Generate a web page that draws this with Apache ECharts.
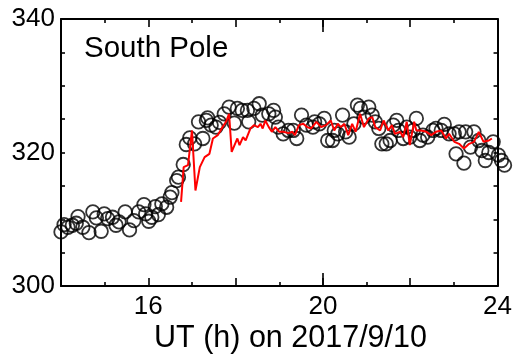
<!DOCTYPE html>
<html>
<head>
<meta charset="utf-8">
<style>
  html, body { margin: 0; padding: 0; background: #fff; }
  #chart { width: 515px; height: 356px; }
</style>
<script src="https://cdn.jsdelivr.net/npm/echarts@6/dist/echarts.min.js"></script>
</head>
<body>
<div id="chart"></div>
<script>
// Observed values (open circles): UT hour and value
const obsHours = [
  14.00, 14.07, 14.16, 14.26, 14.35, 14.39, 14.50, 14.64, 14.73, 14.81,
  14.92, 14.99, 15.07, 15.18, 15.26, 15.33, 15.47, 15.57, 15.67, 15.78,
  15.90, 15.94, 16.01, 16.08, 16.16, 16.23, 16.31, 16.42, 16.50, 16.54,
  16.65, 16.69, 16.80, 16.87, 16.95, 17.06, 17.15, 17.25, 17.33, 17.36,
  17.44, 17.55, 17.63, 17.74, 17.85, 17.97, 18.04, 18.15, 18.27, 18.30,
  18.42, 18.54, 18.61, 18.76, 18.87, 18.91, 18.98, 19.09, 19.21, 19.32,
  19.40, 19.51, 19.62, 19.77, 19.81, 19.92, 20.03, 20.11, 20.22, 20.26,
  20.34, 20.45, 20.52, 20.60, 20.71, 20.79, 20.86, 20.94, 21.05, 21.13,
  21.20, 21.28, 21.35, 21.45, 21.54, 21.61, 21.69, 21.73, 21.84, 21.92,
  21.99, 22.07, 22.14, 22.22, 22.29, 22.40, 22.52, 22.59, 22.71, 22.78,
  22.89, 23.01, 23.05, 23.12, 23.23, 23.27, 23.38, 23.46, 23.57, 23.64,
  23.72, 23.80, 23.90, 24.02, 24.09, 24.16
];
const obsValues = [
  308.1, 309.2, 308.8, 309.1, 309.4, 310.4, 308.8, 308.0, 311.1, 310.2,
  308.2, 310.8, 310.1, 310.3, 309.1, 309.6, 311.1, 308.4, 309.8, 311.1,
  312.2, 310.8, 309.7, 310.3, 311.9, 310.7, 312.3, 311.8, 313.3, 314.0,
  315.8, 316.3, 318.2, 321.2, 322.2, 321.3, 324.6, 322.1, 324.8, 325.2,
  324.1, 323.8, 324.5, 325.8, 326.8, 324.4, 326.6, 326.3, 326.3, 324.6,
  326.6, 327.3, 325.6, 325.8, 326.3, 325.3, 323.8, 322.8, 323.3, 323.3,
  322.1, 325.6, 324.1, 323.8, 324.6, 324.3, 325.1, 321.8, 321.8, 323.3,
  322.8, 325.6, 323.1, 322.3, 324.3, 327.1, 326.6, 325.3, 326.8, 325.6,
  324.6, 323.6, 321.3, 321.3, 321.8, 324.1, 324.8, 323.3, 322.1, 323.8,
  322.3, 323.3, 325.1, 321.8, 322.6, 322.3, 323.3, 323.6, 323.3, 324.2,
  322.8, 322.8, 319.8, 323.1, 318.4, 323.1, 320.8, 323.1, 321.8, 320.3,
  318.8, 320.0, 321.6, 319.6, 318.8, 318.1
];

// Model values (red line): UT hour and value; '-' breaks the line
const modelHours = [
  16.75, 16.81, 16.91, 17.00, 17.08, 17.18, 17.29, 17.40, 17.48, 17.59,
  17.70, 17.78, 17.85, 17.91, 18.04, 18.09, 18.17, 18.23, 18.34, 18.42,
  18.51, 18.57, 18.62, 18.68, 18.76, 18.83, 18.91, 19.00, 19.09, 19.21,
  19.30, 19.36, 19.45, 19.55, 19.64, 19.73, 19.85, 19.96, 20.07, 20.18,
  20.26, 20.34, 20.41, 20.49, 20.58, 20.67, 20.75, 20.85, 20.94, 21.05,
  21.13, 21.20, 21.31, 21.39, 21.50, 21.58, 21.65, 21.77, 21.84, 21.92,
  21.99, 22.09, 22.14, 22.25, 22.37, 22.48, 22.59, 22.71, 22.82, 22.89,
  23.01, 23.12, 23.23, 23.35, 23.46, 23.57, 23.68, 23.80, 23.87,
  24.00, 24.08, 24.17
];
const modelValues = [
  312.6, 317.8, 318.1, 323.3, 314.3, 317.8, 319.3, 319.8, 322.1, 322.6,
  323.8, 324.6, 325.8, 320.1, 322.1, 321.1, 322.3, 321.8, 323.6, 324.1,
  323.8, 324.3, 323.6, 324.8, 323.8, 323.1, 323.8, 323.1, 323.1, 322.9,
  323.1, 322.6, 324.1, 324.3, 323.8, 323.6, 324.6, 323.8, 324.1, 324.8,
  323.3, 324.3, 323.8, 324.3, 322.6, 324.3, 323.1, 325.8, 323.8, 325.1,
  325.3, 323.8, 323.3, 324.8, 323.3, 324.1, 322.8, 323.1, 322.3, 324.6,
  321.1, 324.6, 323.3, 323.3, 323.1, 322.6, 323.1, 323.3, 322.1, 322.8,
  321.6, 321.3, 320.6, 321.3, 321.6, 323.1, 321.6, 321.8, 322.1,
  '-', 320.5, 320.5
];

// Axis setup
const xMin = 14, xMax = 24, xMajor = 2;
const xLabelValues = [16, 20, 24];
const xLongTick = [20];
const yMin = 300, yMax = 340, yTickStep = 5;
const yLabelValues = [300, 320, 340];
const stationName = 'South Pole';
const xTitle = 'UT (h) on 2017/9/10';

const FONT = '"Liberation Sans", Arial, sans-serif';
const axisLineStyle = { color: '#000', width: 2 };

function xAxisDef(pos, withLabels) {
  return {
    type: 'value', position: pos, min: xMin, max: xMax, interval: xMajor,
    axisLine: { show: true, onZero: false, lineStyle: axisLineStyle },
    axisTick: { show: true, inside: true, length: 8, lineStyle: { color: '#000', width: 1.6 } },
    minorTick: { show: true, splitNumber: 2, length: 4, lineStyle: { color: '#000', width: 1.6 } },
    splitLine: { show: false },
    minorSplitLine: { show: false },
    axisLabel: {
      show: withLabels, margin: 8, color: '#000', fontFamily: FONT, fontSize: 26,
      formatter: v => (xLabelValues.indexOf(v) >= 0 ? String(v) : '')
    }
  };
}
function xLongTickAxis(pos) {
  return {
    type: 'value', position: pos, min: xMin, max: xMax, gridIndex: 0,
    axisLine: { show: false },
    axisTick: { show: true, inside: true, length: 13, customValues: xLongTick,
      lineStyle: { color: '#000', width: 1.6 } },
    axisLabel: { show: false },
    splitLine: { show: false }
  };
}
function yAxisDef(pos, withLabels) {
  return {
    type: 'value', position: pos, min: yMin, max: yMax, interval: yTickStep,
    axisLine: { show: true, onZero: false, lineStyle: axisLineStyle },
    axisTick: { show: true, inside: true, length: 4, lineStyle: { color: '#000', width: 1.6 } },
    splitLine: { show: false },
    axisLabel: {
      show: withLabels, margin: 6, color: '#000', fontFamily: FONT, fontSize: 26,
      formatter: v => (yLabelValues.indexOf(v) >= 0 ? String(v) : '')
    }
  };
}

const chart = echarts.init(document.getElementById('chart'), null, { renderer: 'canvas' });
chart.setOption({
  animation: false,
  backgroundColor: '#fff',
  grid: { left: 61, right: 11, top: 19, bottom: 70, containLabel: false },
  xAxis: [
    xAxisDef('bottom', true),
    xAxisDef('top', false),
    xLongTickAxis('bottom'),
    xLongTickAxis('top')
  ],
  yAxis: [
    yAxisDef('left', true),
    yAxisDef('right', false)
  ],
  graphic: [
    { type: 'text', left: 84, top: 34,
      style: { text: stationName, fontFamily: FONT, fontSize: 29.5, fill: '#000' } },
    { type: 'text', left: 154, top: 323,
      style: { text: xTitle, fontFamily: FONT, fontSize: 30.5, fill: '#000' } }
  ],
  series: [
    {
      type: 'scatter', xAxisIndex: 0, yAxisIndex: 0, clip: false,
      symbol: 'circle', symbolSize: 13.5,
      itemStyle: { color: 'rgba(0,0,0,0)', borderColor: '#000', borderWidth: 1.8 },
      data: obsHours.map((h, i) => [h, obsValues[i]]),
      z: 2
    },
    {
      type: 'line', xAxisIndex: 0, yAxisIndex: 0, clip: false,
      showSymbol: false, symbol: 'none', connectNulls: false,
      lineStyle: { color: '#ff0000', width: 2 },
      data: modelHours.map((h, i) => [h, modelValues[i]]),
      z: 3
    }
  ]
});
</script>
</body>
</html>
